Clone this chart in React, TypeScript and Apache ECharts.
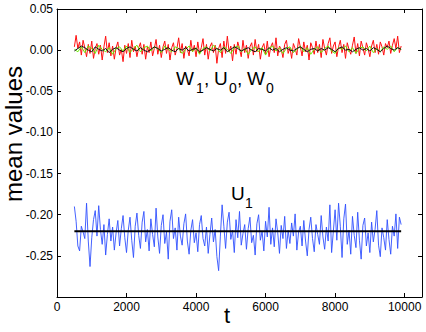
import React, { useEffect, useRef } from "react";
import * as echarts from "echarts";

const T_START = 500;
const STEP_FINE = 50;
const STEP_COARSE = 100;

// U1 (blue), t = 500..9900 step 50
const u1Values = [
  -0.190, -0.208, -0.238, -0.244, -0.214, -0.221, -0.229, -0.186, -0.232, -0.263,
  -0.228, -0.206, -0.195, -0.226, -0.189, -0.218, -0.236, -0.212, -0.249, -0.224,
  -0.205, -0.232, -0.215, -0.243, -0.222, -0.207, -0.238, -0.217, -0.201, -0.228,
  -0.246, -0.219, -0.203, -0.231, -0.252, -0.214, -0.198, -0.225, -0.241, -0.209,
  -0.196, -0.233, -0.218, -0.244, -0.205, -0.224, -0.239, -0.192, -0.227, -0.247,
  -0.213, -0.200, -0.235, -0.221, -0.254, -0.208, -0.194, -0.229, -0.216, -0.243,
  -0.203, -0.226, -0.237, -0.211, -0.199, -0.232, -0.248, -0.219, -0.206, -0.234,
  -0.222, -0.245, -0.212, -0.201, -0.229, -0.238, -0.215, -0.247, -0.224, -0.204,
  -0.233, -0.218, -0.251, -0.268, -0.226, -0.188, -0.214, -0.241, -0.209, -0.197,
  -0.230, -0.219, -0.246, -0.206, -0.228, -0.196, -0.237, -0.223, -0.212, -0.242,
  -0.217, -0.203, -0.234, -0.225, -0.249, -0.211, -0.200, -0.231, -0.220, -0.244,
  -0.208, -0.227, -0.191, -0.236, -0.216, -0.239, -0.205, -0.222, -0.247, -0.213,
  -0.229, -0.202, -0.241, -0.219, -0.235, -0.210, -0.226, -0.199, -0.243, -0.221,
  -0.214, -0.238, -0.207, -0.232, -0.250, -0.218, -0.203, -0.229, -0.245, -0.212,
  -0.224, -0.236, -0.201, -0.227, -0.242, -0.215, -0.232, -0.188, -0.246, -0.220,
  -0.194, -0.231, -0.186, -0.214, -0.252, -0.205, -0.187, -0.236, -0.219, -0.248,
  -0.202, -0.225, -0.240, -0.197, -0.231, -0.254, -0.213, -0.204, -0.238, -0.222,
  -0.246, -0.209, -0.233, -0.218, -0.195, -0.237, -0.251, -0.216, -0.228, -0.243,
  -0.206, -0.230, -0.248, -0.214, -0.226, -0.199, -0.241, -0.203, -0.212,
];

// W1 (red), t = 500..9900 step 50
const w1Values = [
  0.004, 0.018, 0.002, 0.010, -0.006, 0.012, 0.003, -0.008, 0.007, -0.004,
  0.011, -0.010, 0.002, 0.008, -0.005, 0.006, -0.012, 0.004, 0.017, -0.003,
  0.009, -0.007, 0.005, -0.011, 0.003, 0.010, -0.006, 0.001, -0.014, 0.006,
  -0.004, 0.008, -0.009, 0.012, -0.002, 0.005, -0.008, 0.003, 0.009, -0.005,
  0.007, -0.011, 0.004, -0.003, 0.010, -0.007, 0.002, 0.013, -0.005, 0.006,
  -0.009, 0.004, 0.011, -0.004, 0.007, -0.012, 0.003, 0.009, -0.006, 0.002,
  0.015, -0.003, 0.008, -0.010, 0.005, 0.001, -0.007, 0.012, -0.002, 0.006,
  -0.008, 0.010, -0.004, 0.003, 0.014, -0.006, 0.007, -0.011, 0.004, 0.009,
  -0.003, 0.006, -0.016, 0.002, 0.008, -0.009, 0.011, -0.004, 0.017, -0.002,
  0.005, -0.013, 0.007, -0.005, 0.010, 0.002, -0.008, 0.012, -0.003, 0.006,
  -0.010, 0.004, 0.009, -0.006, 0.013, -0.002, 0.007, -0.011, 0.003, 0.008,
  -0.005, 0.011, -0.008, 0.004, 0.009, -0.003, 0.015, -0.007, 0.005, 0.001,
  -0.009, 0.007, 0.012, -0.004, 0.003, -0.010, 0.008, 0.002, -0.006, 0.014,
  0.004, -0.007, 0.010, -0.002, 0.006, -0.012, 0.009, 0.003, -0.005, 0.011,
  -0.003, 0.007, -0.009, 0.013, 0.002, -0.006, 0.008, 0.015, -0.004, 0.005,
  0.010, -0.008, 0.004, 0.012, -0.003, 0.007, -0.010, 0.009, 0.001, -0.005,
  0.006, 0.016, -0.004, 0.008, -0.007, 0.011, 0.003, -0.006, 0.009, 0.002,
  -0.008, 0.005, 0.012, -0.003, 0.007, -0.005, 0.010, 0.004, -0.006, 0.008,
  0.003, 0.011, -0.004, 0.006, 0.014, 0.002, 0.017, -0.003, 0.005,
];

// U0 (green), t = 500..9900 step 100
const u0Values = [
  0.001, -0.002, 0.004, -0.003, 0.005, 0.002, -0.004, 0.006, 0.001, -0.002,
  0.003, -0.005, 0.002, 0.004, -0.001, 0.005, -0.003, 0.002, 0.006, -0.002,
  0.003, 0.005, -0.001, 0.004, 0.002, -0.003, 0.005, 0.001, -0.002, 0.004,
  0.002, -0.004, 0.001, 0.005, -0.002, 0.003, -0.005, 0.002, 0.004, -0.001,
  0.006, 0.002, -0.003, 0.004, 0.001, -0.004, 0.003, 0.005, -0.002, 0.002,
  -0.005, 0.001, 0.004, -0.002, 0.003, -0.006, 0.002, 0.005, -0.001, 0.003,
  -0.004, 0.002, 0.004, -0.003, 0.001, 0.005, -0.002, 0.003, -0.005, 0.001,
  0.004, -0.003, 0.002, 0.005, -0.001, -0.004, 0.003, 0.001, 0.005, -0.002,
  0.003, -0.004, 0.002, 0.004, -0.001, 0.005, -0.003, 0.002, -0.002, 0.004,
  0.001, 0.005, -0.002, 0.003, 0.001,
];

// W0 (black), t = 500..9900 step 100
const w0Values = [
  -0.001, 0.002, 0.005, 0.003, 0.000, -0.002, 0.004, 0.001, -0.001, 0.002,
  -0.003, 0.001, 0.003, 0.000, -0.002, 0.002, 0.004, 0.001, -0.001, 0.003,
  0.000, -0.002, 0.001, 0.004, 0.002, -0.001, 0.001, 0.003, 0.000, -0.002,
  0.002, 0.000, 0.003, -0.001, 0.001, 0.002, -0.002, 0.000, 0.003, 0.001,
  -0.001, 0.002, 0.000, 0.003, -0.002, 0.001, 0.004, 0.002, -0.001, 0.001,
  0.003, 0.000, -0.002, 0.002, 0.001, -0.001, 0.003, 0.000, 0.002, -0.002,
  0.001, 0.003, 0.000, -0.001, 0.002, 0.004, 0.001, -0.002, 0.001, 0.002,
  -0.001, 0.002, 0.000, 0.003, 0.001, -0.002, 0.002, 0.004, 0.000, 0.001,
  -0.002, 0.001, 0.003, 0.000, 0.002, -0.001, 0.003, 0.001, -0.002, 0.002,
  0.005, 0.002, 0.000, 0.003, 0.001,
];

// U1 mean line
const u1MeanT = [500, 9900];
const u1MeanValue = -0.22;

const FONT = "'Liberation Sans', Arial, Helvetica, sans-serif";

function toPairs(values: number[], step: number) {
  return values.map((v, i) => [T_START + i * step, v]);
}

export default function App() {
  const ref = useRef<HTMLDivElement>(null);

  useEffect(() => {
    if (!ref.current) return;
    const chart = echarts.init(ref.current, undefined, { renderer: "svg" });

    const axisLine = { show: true, onZero: false, lineStyle: { color: "#000", width: 1 } };
    const axisTick = { show: true, inside: true, length: 4, lineStyle: { color: "#000", width: 1 } };

    const txt = (text: string, x: number, y: number, size: number) => ({
      type: "text",
      x,
      y,
      silent: true,
      style: {
        text,
        fontSize: size,
        fontFamily: FONT,
        fill: "#000",
        align: "left",
        verticalAlign: "middle",
      },
    });

    chart.setOption({
      animation: false,
      backgroundColor: "#fff",
      grid: { left: 57, right: 4, top: 9, bottom: 35, containLabel: false },
      xAxis: [
        {
          type: "value",
          min: 0,
          max: 10500,
          interval: 2000,
          position: "bottom",
          axisLine,
          axisTick,
          splitLine: { show: false },
          axisLabel: {
            show: true,
            margin: 4,
            fontSize: 12,
            fontFamily: FONT,
            color: "#000",
            showMaxLabel: false,
            formatter: (v: number) => (v > 10001 ? "" : String(Math.round(v))),
          },
        },
        {
          type: "value",
          min: 0,
          max: 10500,
          interval: 2000,
          position: "top",
          axisLine,
          axisTick,
          splitLine: { show: false },
          axisLabel: { show: false },
        },
      ],
      yAxis: [
        {
          type: "value",
          min: -0.3,
          max: 0.05,
          interval: 0.05,
          position: "left",
          axisLine,
          axisTick,
          splitLine: { show: false },
          axisLabel: {
            show: true,
            margin: 4,
            fontSize: 12,
            fontFamily: FONT,
            color: "#000",
            formatter: (v: number) => {
              if (v < -0.29) return "";
              if (Math.abs(v) < 1e-9) return "0.00";
              return v.toFixed(2);
            },
          },
        },
        {
          type: "value",
          min: -0.3,
          max: 0.05,
          interval: 0.05,
          position: "right",
          axisLine,
          axisTick,
          splitLine: { show: false },
          axisLabel: { show: false },
        },
      ],
      series: [
        {
          type: "line",
          data: toPairs(u1Values, STEP_FINE),
          showSymbol: false,
          symbol: "none",
          lineStyle: { color: "#3050ff", width: 0.9 },
        },
        {
          type: "line",
          data: u1MeanT.map((t) => [t, u1MeanValue]),
          showSymbol: false,
          symbol: "none",
          lineStyle: { color: "#000", width: 2 },
        },
        {
          type: "line",
          data: toPairs(w1Values, STEP_FINE),
          showSymbol: false,
          symbol: "none",
          lineStyle: { color: "#ff1010", width: 1 },
        },
        {
          type: "line",
          data: toPairs(u0Values, STEP_COARSE),
          showSymbol: false,
          symbol: "none",
          lineStyle: { color: "#66ee00", width: 1 },
        },
        {
          type: "line",
          data: toPairs(w0Values, STEP_COARSE),
          showSymbol: false,
          symbol: "none",
          lineStyle: { color: "#111", width: 1 },
        },
      ],
      graphic: [
        {
          type: "text",
          x: 13,
          y: 134,
          rotation: Math.PI / 2,
          silent: true,
          style: {
            text: "mean values",
            fontSize: 24,
            fontFamily: FONT,
            fill: "#000",
            align: "center",
            verticalAlign: "middle",
          },
        },
        {
          type: "text",
          x: 227,
          y: 315,
          silent: true,
          style: {
            text: "t",
            fontSize: 22,
            fontFamily: FONT,
            fill: "#000",
            align: "center",
            verticalAlign: "middle",
          },
        },
        txt("W", 176, 78, 19),
        txt("1", 196, 88, 14),
        txt(",", 204, 78, 19),
        txt("U", 214, 78, 19),
        txt("0", 229, 88, 14),
        txt(",", 237, 78, 19),
        txt("W", 247, 78, 19),
        txt("0", 266, 88, 14),
        txt("U", 231, 193, 19),
        txt("1", 245, 203, 14),
      ],
    });

    return () => chart.dispose();
  }, []);

  return (
    <div
      ref={ref}
      style={{ position: "absolute", left: 0, top: 0, width: 426, height: 332 }}
    />
  );
}
